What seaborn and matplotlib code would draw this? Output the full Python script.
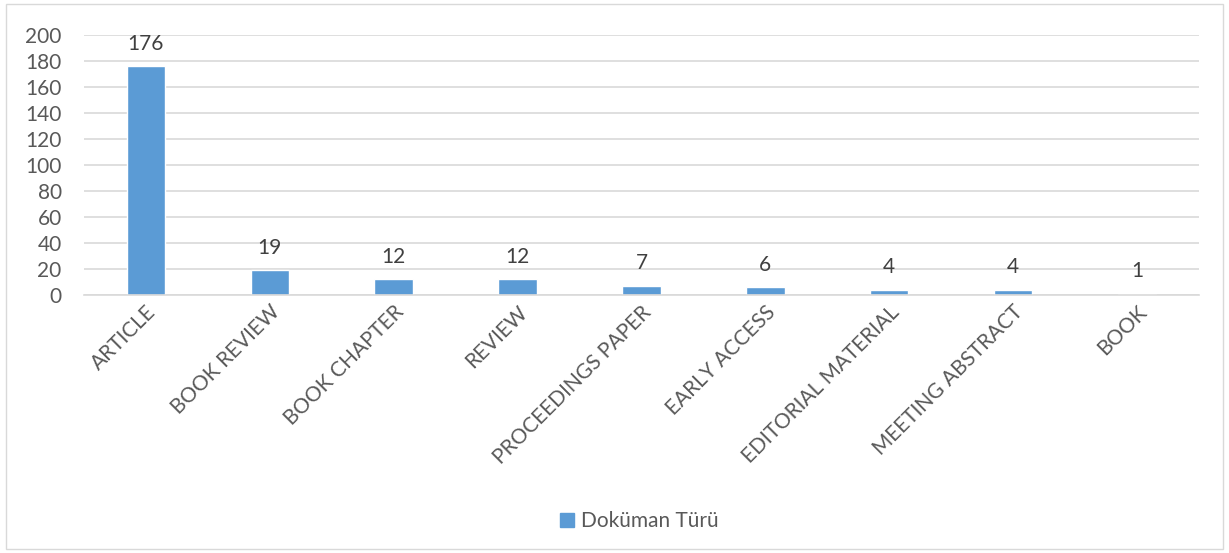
import matplotlib
matplotlib.use("Agg")
import matplotlib.pyplot as plt
import matplotlib.patches as mpatches
import seaborn as sns
import pandas as pd

# Verileri
kategoriler = ["ARTICLE", "BOOK REVIEW", "BOOK CHAPTER", "REVIEW", "PROCEEDINGS PAPER",
               "EARLY ACCESS", "EDITORIAL MATERIAL", "MEETING ABSTRACT", "BOOK"]
degerler = [176, 19, 12, 12, 7, 6, 4, 4, 1]
y_ticks = [0, 20, 40, 60, 80, 100, 120, 140, 160, 180, 200]
seri_adi = "Doküman Türü"

renk = "#5B9BD5"
yazi_renk = "#595959"
fs = 15

sns.set_theme(style="white")
plt.rcParams["font.family"] = ["Lato", "DejaVu Sans"]

df = pd.DataFrame({"Tur": kategoriler, "Sayi": degerler})

fig = plt.figure(figsize=(12.29, 5.53), dpi=100)
ax = fig.add_axes([0.0683, 0.4665, 0.9073, 0.4702])

sns.barplot(data=df, x="Tur", y="Sayi", color=renk, width=0.31, saturation=1, ax=ax)

# Değer etiketleri
for i, v in enumerate(degerler):
    ax.annotate(str(v), (i, v), xytext=(0, 9), textcoords="offset points",
                ha="center", va="bottom", fontsize=fs, color="#404040")

ax.set_ylim(0, 200)
ax.set_yticks(y_ticks)
ax.set_xlim(-0.5, len(kategoriler) - 0.5)
ax.yaxis.grid(True, color="#D9D9D9", linewidth=1.2)
ax.set_axisbelow(True)
for s in ["top", "right", "left"]:
    ax.spines[s].set_visible(False)
ax.spines["bottom"].set_color("#D9D9D9")
ax.spines["bottom"].set_linewidth(1.2)

ax.set_xlabel("")
ax.set_ylabel("")
ax.tick_params(axis="y", labelsize=fs, colors=yazi_renk, length=0, pad=16)
ax.tick_params(axis="x", labelsize=fs, colors=yazi_renk, length=0, pad=5)
plt.setp(ax.get_xticklabels(), rotation=45, ha="right", rotation_mode="anchor")

# Lejant
handle = mpatches.Patch(color=renk, label=seri_adi)
fig.legend(handles=[handle], loc="center", bbox_to_anchor=(0.52, 0.057), frameon=False,
           fontsize=fs, labelcolor=yazi_renk, handlelength=0.7, handleheight=0.7,
           handletextpad=0.3)

# Çerçeve
fig.patches.append(mpatches.Rectangle((0.005, 0.008), 0.99, 0.984, transform=fig.transFigure,
                                      fill=False, edgecolor="#D9D9D9", linewidth=1))

fig.savefig("out.png", dpi=100)
